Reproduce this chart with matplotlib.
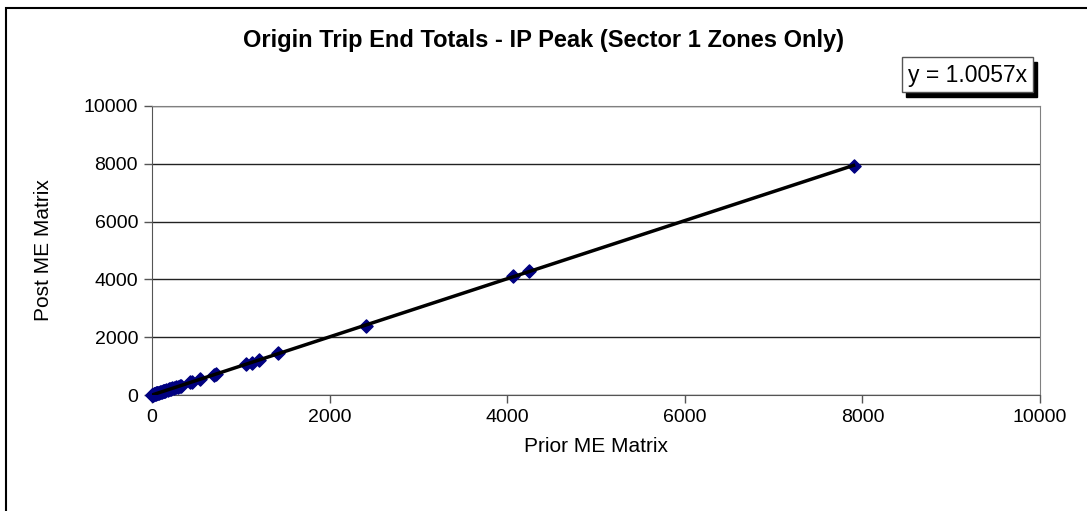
import matplotlib.pyplot as plt
from matplotlib.patches import Rectangle

plt.rcParams['font.family'] = ['Liberation Sans', 'DejaVu Sans']

# Prior vs post ME matrix origin trip end totals
prior = [0, 5, 10, 15, 20, 25, 30, 40, 50, 55, 60, 70, 80, 90, 100, 110, 120,
         130, 140, 150, 160, 175, 190, 200, 215, 230, 250, 270, 290, 310, 330,
         430, 450, 540, 700, 720, 1060, 1130, 1200, 1420, 2410, 4070, 4240, 7900]
post = [0, 6, 12, 14, 22, 24, 33, 38, 52, 60, 58, 72, 84, 88, 104, 108, 125,
        128, 145, 148, 165, 172, 196, 205, 210, 238, 245, 278, 285, 318, 325,
        440, 455, 550, 695, 730, 1070, 1120, 1215, 1440, 2400, 4110, 4280, 7935]
slope = 1.0057
eq_label = 'y = 1.0057x'

fig = plt.figure(figsize=(10.87, 5.11), dpi=100)

# outer chart border (bottom/right run off the picture)
fig.patches.append(Rectangle((6 / 1087, -0.1), 1.2, 1 - 8 / 511 + 0.1,
                             transform=fig.transFigure, fill=False,
                             edgecolor='black', linewidth=1.5))

ax = fig.add_axes([152 / 1087, (511 - 395) / 511, (1040 - 152) / 1087, (395 - 106) / 511])

ax.set_xlim(0, 10000)
ax.set_ylim(0, 10000)
ax.set_xticks(range(0, 10001, 2000))
ax.set_yticks(range(0, 10001, 2000))
ax.grid(axis='y', color='#222222', linewidth=1)
ax.set_axisbelow(True)

for side in ['top', 'right']:
    ax.spines[side].set_color('#808080')
for side in ['left', 'bottom']:
    ax.spines[side].set_color('#555555')
ax.tick_params(direction='out', length=6, width=1, color='#555555',
               labelsize=14, pad=4)

ax.scatter(prior, post, marker='D', s=45, color='#000080',
           edgecolors='#000080', zorder=3, clip_on=False)
xmax = max(prior)
ax.plot([0, xmax], [0, slope * xmax], color='black', linewidth=2.5, zorder=4)

ax.set_xlabel('Prior ME Matrix', fontsize=15, labelpad=8)
ax.set_ylabel('Post ME Matrix', fontsize=15, labelpad=22)
fig.text(0.5, 1 - 40 / 511, 'Origin Trip End Totals - IP Peak (Sector 1 Zones Only)',
         ha='center', va='center', fontsize=17, fontweight='bold')

# equation label with shadow
fig.patches.append(Rectangle((906 / 1087, 1 - 97 / 511), 131 / 1087, 35 / 511,
                             transform=fig.transFigure, facecolor='black',
                             edgecolor='black'))
fig.patches.append(Rectangle((902 / 1087, 1 - 92 / 511), 131 / 1087, 35 / 511,
                             transform=fig.transFigure, facecolor='white',
                             edgecolor='#555555', linewidth=1))
fig.text(968 / 1087, 1 - 75 / 511, eq_label, ha='center', va='center', fontsize=16.5)

fig.savefig('out.png', dpi=100)
